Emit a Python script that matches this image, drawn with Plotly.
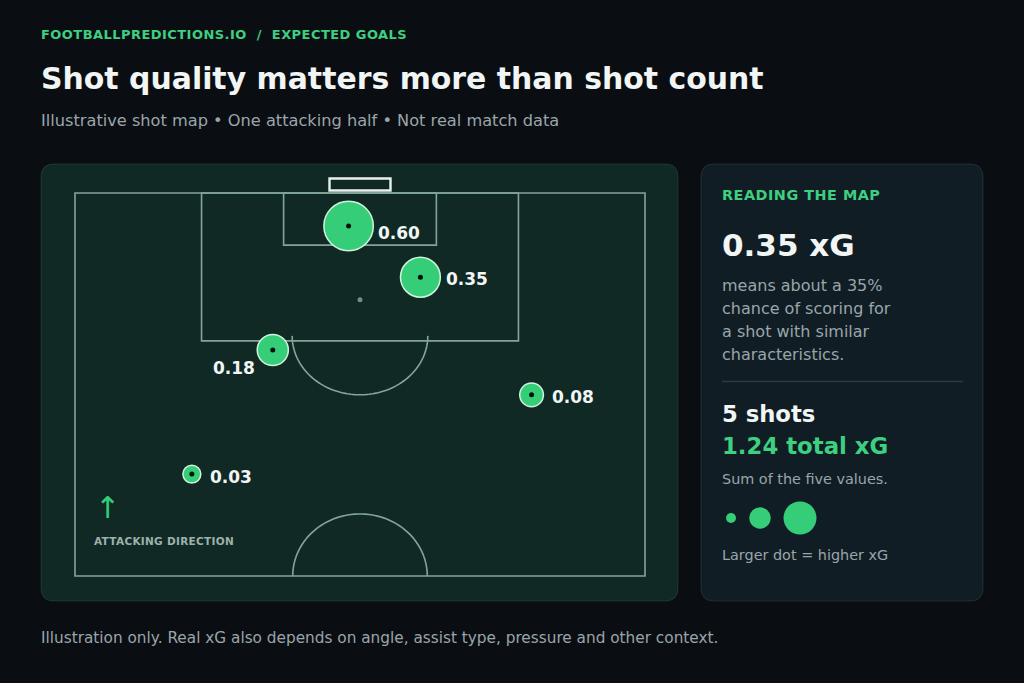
import numpy as np
import plotly.graph_objects as go

# ---------------- data ----------------
SHOT_XG = [0.60, 0.35, 0.18, 0.08, 0.03]
SHOT_X = [48.0, 60.6, 34.7, 80.1, 20.5]   # across the pitch, 0-100 (left to right)
SHOT_Y = [8.6, 22.0, 41.0, 52.7, 73.4]    # from goal line, 0-100 (one attacking half)
SHOT_LABELS = ["0.60", "0.35", "0.18", "0.08", "0.03"]

# label placement (style)
LABEL_SIDE = ["right", "right", "left", "right", "right"]
LABEL_DY = [-7, -2, -18, -2, -3]

KICKER = "FOOTBALLPREDICTIONS.IO  /  EXPECTED GOALS"
TITLE = "Shot quality matters more than shot count"
SUBTITLE = "Illustrative shot map \u2022 One attacking half \u2022 Not real match data"
FOOTNOTE = "Illustration only. Real xG also depends on angle, assist type, pressure and other context."
PANEL_TITLE = "READING THE MAP"
EXAMPLE_XG = "0.35 xG"
PANEL_LINES = ["means about a 35%", "chance of scoring for", "a shot with similar", "characteristics."]
SUM_NOTE = "Sum of the five values."
SIZE_NOTE = "Larger dot = higher xG"
DIRECTION = "ATTACKING DIRECTION"

# ---------------- style ----------------
W, H = 1024, 683
FONT = "DejaVu Sans"
BG = "#0a0e13"
PITCH_BG = "#102925"
SIDE_BG = "#111d24"
GREEN = "#36cd79"
GREEN_TXT = "#3ecf80"
WHITE = "#f1f5f4"
GREY = "#9aa5aa"
LINE = "#82a59b"

def px(x):
    return x / W

def py(y):
    return 1 - y / H

# pitch pixel frame (outer lines) and panel frame
PX0, PX1, PY0, PY1 = 75, 645, 193, 576
SX = (PX1 - PX0) / 100.0
SY = (PY1 - PY0) / 100.0
LP = (41, 164, 678, 601)
RP = (701, 164, 983, 601)


def rounded(x0, y0, x1, y1, r):
    return (f"M {px(x0+r)},{py(y0)} L {px(x1-r)},{py(y0)} Q {px(x1)},{py(y0)} {px(x1)},{py(y0+r)} "
            f"L {px(x1)},{py(y1-r)} Q {px(x1)},{py(y1)} {px(x1-r)},{py(y1)} "
            f"L {px(x0+r)},{py(y1)} Q {px(x0)},{py(y1)} {px(x0)},{py(y1-r)} "
            f"L {px(x0)},{py(y0+r)} Q {px(x0)},{py(y0)} {px(x0+r)},{py(y0)} Z")


def radius(xg):
    return 5.2 + 26.2 * np.sqrt(xg)


shapes = []
shapes.append(dict(type="path", xref="paper", yref="paper", path=rounded(*LP, 13),
                   fillcolor=PITCH_BG, line=dict(color="rgba(120,180,160,0.16)", width=1), layer="below"))
shapes.append(dict(type="path", xref="paper", yref="paper", path=rounded(*RP, 13),
                   fillcolor=SIDE_BG, line=dict(color="rgba(150,190,190,0.14)", width=1), layer="below"))

pl = dict(color=LINE, width=1.6)
# outer lines, penalty box, six-yard box
shapes.append(dict(type="rect", xref="x", yref="y", x0=0, x1=100, y0=0, y1=100, line=pl, layer="below"))
shapes.append(dict(type="rect", xref="x", yref="y", x0=22.2, x1=77.8, y0=0, y1=38.6, line=pl, layer="below"))
shapes.append(dict(type="rect", xref="x", yref="y", x0=36.6, x1=63.4, y0=0, y1=13.6, line=pl, layer="below"))
# goal
shapes.append(dict(type="rect", xref="x", yref="y", x0=44.65, x1=55.35, y0=-3.8, y1=-0.65,
                   line=dict(color="#e9f1ef", width=2.4), layer="below"))
# D arc
t = np.linspace(0, np.pi, 60)
dx = 50 + 11.9 * np.cos(t)
dy = 37.3 + 15.4 * np.sin(t)
shapes.append(dict(type="path", xref="x", yref="y", line=pl, layer="below",
                   path="M " + " L ".join(f"{a:.3f},{b:.3f}" for a, b in zip(dx, dy))))
# centre circle (half)
cx = 50 + 11.8 * np.cos(t)
cy = 100 - 16.2 * np.sin(t)
shapes.append(dict(type="path", xref="x", yref="y", line=pl, layer="below",
                   path="M " + " L ".join(f"{a:.3f},{b:.3f}" for a, b in zip(cx, cy))))

# right panel separator
shapes.append(dict(type="line", xref="paper", yref="paper", x0=px(722), x1=px(963), y0=py(381.5), y1=py(381.5),
                   line=dict(color="#2b3b42", width=1.5)))
# legend dots
for cxp, r in [(731, 5), (760, 10.7), (800, 16.5)]:
    shapes.append(dict(type="circle", xref="paper", yref="paper",
                       x0=px(cxp - r), x1=px(cxp + r), y0=py(518 + r), y1=py(518 - r),
                       fillcolor=GREEN, line=dict(width=0)))

fig = go.Figure()
# penalty spot
fig.add_trace(go.Scatter(x=[50], y=[27.9], mode="markers", hoverinfo="skip",
                         marker=dict(size=5, color="#6f8e86")))
sizes = [2 * radius(v) - 1.5 for v in SHOT_XG]
fig.add_trace(go.Scatter(x=SHOT_X, y=SHOT_Y, mode="markers", hoverinfo="skip",
                         marker=dict(size=sizes, color=GREEN, opacity=1,
                                     line=dict(color="rgba(225,255,235,0.9)", width=1.5))))
fig.add_trace(go.Scatter(x=SHOT_X, y=SHOT_Y, mode="markers", hoverinfo="skip",
                         marker=dict(size=5, color="#03100a")))

ann = []
for x, y, v, lab, side, ddy in zip(SHOT_X, SHOT_Y, SHOT_XG, SHOT_LABELS, LABEL_SIDE, LABEL_DY):
    r = radius(v)
    if side == "right":
        ann.append(dict(x=x, y=y, xref="x", yref="y", text=f"<b>{lab}</b>", showarrow=False,
                        xanchor="left", yanchor="middle", xshift=0.72 * r + 9, yshift=ddy,
                        font=dict(family=FONT, size=17, color=WHITE)))
    else:
        ann.append(dict(x=x, y=y, xref="x", yref="y", text=f"<b>{lab}</b>", showarrow=False,
                        xanchor="right", yanchor="middle", xshift=-(r - 1), yshift=ddy,
                        font=dict(family=FONT, size=17, color=WHITE)))


def txt(x, y, s, size, color, bold=False, spacing=None):
    body = f"<b>{s}</b>" if bold else s
    if spacing is not None:
        body = f'<span style="letter-spacing:{spacing}px">{body}</span>'
    ann.append(dict(x=px(x), y=py(y), xref="paper", yref="paper", text=body,
                    showarrow=False, xanchor="left", yanchor="middle",
                    font=dict(family=FONT, size=size, color=color)))


txt(39, 35, KICKER, 13, GREEN_TXT, True, 0.45)
txt(39, 79, TITLE, 29.9, WHITE, True)
txt(39, 120, SUBTITLE, 16.2, GREY)
txt(39, 638, FOOTNOTE, 15.3, GREY)

txt(92, 541, DIRECTION, 10.5, "#9db2ab", True, 0.3)
ann.append(dict(x=px(107), y=py(507), xref="paper", yref="paper", text="\u2191", showarrow=False,
                xanchor="center", yanchor="middle", font=dict(family=FONT, size=30, color=GREEN)))

txt(720, 195, PANEL_TITLE, 14.4, GREEN_TXT, True, 0.5)
txt(720, 245, EXAMPLE_XG, 31, WHITE, True)
for i, line in enumerate(PANEL_LINES):
    txt(720, 286 + 22.7 * i, line, 16, GREY)
txt(720, 414, f"{len(SHOT_XG)} shots", 22.7, WHITE, True)
txt(720, 446, f"{sum(SHOT_XG):.2f} total xG", 22.8, GREEN_TXT, True)
txt(720, 479, SUM_NOTE, 14.4, GREY)
txt(720, 555, SIZE_NOTE, 14.4, GREY)

fig.update_layout(
    width=W, height=H, autosize=False,
    margin=dict(l=0, r=0, t=0, b=0),
    paper_bgcolor=BG, plot_bgcolor="rgba(0,0,0,0)",
    showlegend=False, shapes=shapes, annotations=ann,
    xaxis=dict(domain=[px(LP[0]), px(LP[2])], range=[(LP[0] - PX0) / SX, (LP[2] - PX0) / SX],
               visible=False, fixedrange=True),
    yaxis=dict(domain=[py(LP[3]), py(LP[1])], range=[(LP[3] - PY0) / SY, (LP[1] - PY0) / SY],
               visible=False, fixedrange=True),
    font=dict(family=FONT),
)

fig.write_html("out.html", config={"displayModeBar": False},
               post_script="document.body.style.margin='0';document.body.style.background='" + BG + "';")
